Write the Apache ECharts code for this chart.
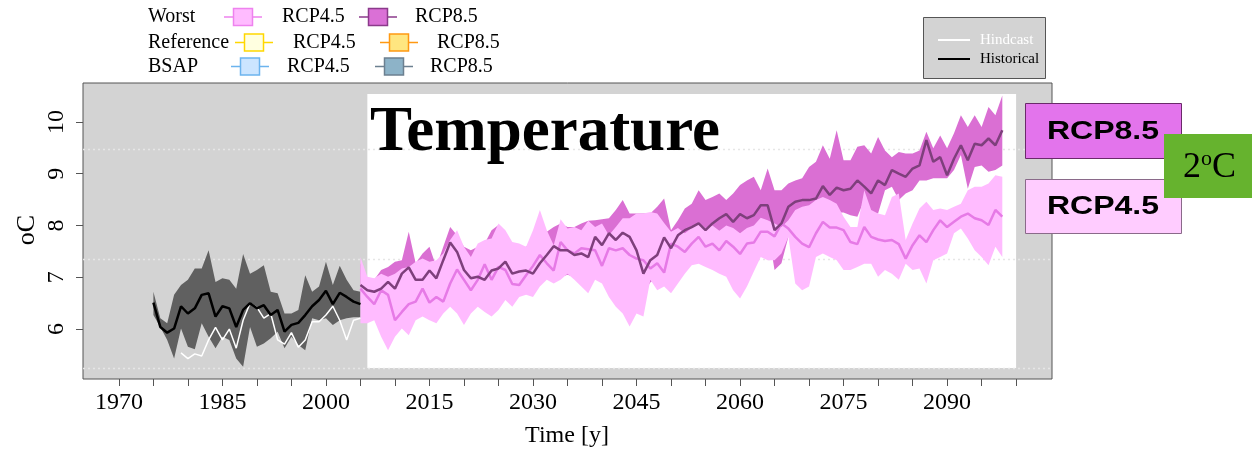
<!DOCTYPE html>
<html><head><meta charset="utf-8">
<script src="https://cdn.jsdelivr.net/npm/echarts@6/dist/echarts.min.js"></script>
<style>html,body{margin:0;padding:0;background:#fff}#c{width:1252px;height:454px}</style>
</head><body><div id="c"></div>
<script>
// ---------- DATA ----------
const histYears = [1975,1976,1977,1978,1979,1980,1981,1982,1983,1984,1985,1986,1987,1988,1989,1990,1991,1992,1993,1994,1995,1996,1997,1998,1999,2000,2001,2002,2003,2004,2005];
const histMean = [6.51,6.04,5.93,6.01,6.44,6.30,6.40,6.66,6.69,6.24,6.44,6.40,6.04,6.37,6.50,6.40,6.46,6.27,6.37,5.95,6.08,6.12,6.27,6.44,6.56,6.74,6.48,6.70,6.62,6.53,6.48];
const histHi = [6.72,6.21,6.11,6.66,6.85,6.95,7.17,7.17,7.52,6.91,6.98,6.95,6.78,7.45,7.07,7.14,7.23,6.72,6.69,6.30,6.30,6.37,7.04,6.72,6.82,7.30,6.85,7.22,6.95,6.75,6.72];
const histLo = [6.27,6.04,5.79,5.43,6.01,5.66,5.61,6.11,5.85,5.63,5.85,5.79,5.43,5.27,6.04,5.66,5.72,5.82,5.95,5.63,5.85,5.69,5.59,6.21,6.17,6.21,6.08,6.17,6.21,6.23,6.23];
const hindYears = [1979,1980,1981,1982,1983,1984,1985,1986,1987,1988,1989,1990,1991,1992,1993,1994,1995,1996,1997,1998,1999,2000,2001,2002,2003,2004,2005];
const hindcast = [5.54,5.43,5.52,5.48,5.79,6.03,5.79,6.00,5.63,6.17,6.50,6.42,6.21,6.30,5.79,5.71,5.93,5.65,5.79,6.14,6.14,6.27,6.44,6.17,5.79,6.17,6.21];

const projYears = [2005,2006,2007,2008,2009,2010,2011,2012,2013,2014,2015,2016,2017,2018,2019,2020,2021,2022,2023,2024,2025,2026,2027,2028,2029,2030,2031,2032,2033,2034,2035,2036,2037,2038,2039,2040,2041,2042,2043,2044,2045,2046,2047,2048,2049,2050,2051,2052,2053,2054,2055,2056,2057,2058,2059,2060,2061,2062,2063,2064,2065,2066,2067,2068,2069,2070,2071,2072,2073,2074,2075,2076,2077,2078,2079,2080,2081,2082,2083,2084,2085,2086,2087,2088,2089,2090,2091,2092,2093,2094,2095,2096,2097,2098];
const worst85 = [6.85,6.75,6.72,6.78,6.91,6.78,7.07,7.19,6.95,6.95,
7.13,6.98,7.33,7.67,7.49,7.14,6.98,7.01,6.95,7.13,
7.17,7.30,7.07,7.11,7.13,7.07,7.27,7.43,7.60,7.52,
7.52,7.43,7.46,7.39,7.78,7.62,7.85,7.72,7.86,7.78,
7.52,7.07,7.33,7.43,7.77,7.56,
7.81,7.91,7.97,8.04,7.91,8.04,8.14,8.22,8.07,8.22,
8.14,8.20,8.39,8.39,7.91,8.04,8.36,8.46,8.49,8.49,
8.52,8.76,8.59,8.73,8.68,8.71,8.87,8.75,8.62,8.87,
8.78,9.07,9.00,8.94,9.10,9.16,9.65,9.23,9.32,8.97,
9.29,9.55,9.26,9.58,9.55,9.68,9.55,9.84];
const worst45 = [6.78,6.62,6.48,6.75,6.66,6.17,6.33,6.48,6.53,6.78,
6.51,6.62,6.53,6.88,7.15,6.95,6.75,6.95,7.25,6.95,
7.20,7.14,6.87,6.85,7.04,7.22,7.43,7.27,7.13,7.68,
7.52,7.46,7.56,7.54,7.52,7.22,7.56,7.52,7.56,7.43,
7.36,7.33,7.17,7.27,7.09,7.65,
7.59,7.49,7.65,7.78,7.59,7.65,7.52,7.70,7.59,7.45,
7.65,7.67,7.88,7.88,7.79,8.04,7.94,7.78,7.65,7.58,
7.85,8.07,7.96,7.96,7.91,7.68,7.64,7.97,7.78,7.73,
7.70,7.72,7.64,7.36,7.62,7.81,7.68,7.91,8.10,7.97,
8.07,8.17,8.23,8.14,8.10,8.01,8.30,8.17];
const worst45Hi = [7.39,7.01,6.98,7.07,7.01,7.07,7.17,7.20,7.30,7.36,
7.30,7.33,7.46,7.72,7.91,7.59,7.39,7.65,7.72,7.75,
8.04,7.91,7.68,7.65,7.59,7.91,8.30,7.91,7.62,8.12,
7.94,7.97,7.91,8.09,7.97,8.04,7.81,7.97,8.14,8.14,
8.23,8.23,8.26,8.23,8.05,7.88,
7.95,7.85,7.95,8.05,7.95,8.00,7.90,8.00,7.95,7.85,
7.95,8.00,8.15,8.10,8.04,7.97,8.10,8.30,8.36,8.39,
8.49,8.55,8.49,8.42,8.17,7.97,7.97,8.68,8.30,8.23,
8.20,8.55,8.62,7.72,8.04,8.33,8.46,8.30,8.33,8.30,
8.36,8.42,8.68,8.75,8.75,8.81,8.97,8.94];
const worst45Lo = [6.11,6.11,6.17,5.85,5.59,5.85,6.01,5.88,6.17,6.24,
6.17,6.11,6.30,6.43,6.30,6.08,6.30,6.43,6.33,6.24,
6.37,6.56,6.43,6.62,6.66,6.62,6.82,6.95,6.88,6.95,
7.07,6.95,6.82,6.69,6.95,6.88,6.62,6.43,6.30,6.05,
6.30,6.24,6.95,6.75,6.82,6.69,
6.88,7.07,7.23,7.26,7.20,7.14,7.07,7.01,6.75,6.59,
6.82,7.11,7.39,7.33,7.33,7.46,7.78,6.88,6.75,6.82,
7.39,7.46,7.39,7.33,7.14,7.14,7.20,7.26,7.26,7.01,
7.14,7.07,6.95,7.26,7.14,7.17,6.88,7.33,7.39,7.46,
7.85,7.94,7.75,7.52,7.39,7.23,7.59,7.39];
const worst85Hi = [7.27,6.95,6.95,7.14,7.20,7.30,7.33,7.88,7.27,7.46,
7.59,7.20,7.59,7.97,7.81,7.59,7.52,7.59,7.65,7.91,
8.01,7.72,7.59,7.56,7.59,7.68,7.78,7.88,7.97,8.04,
7.97,7.97,8.04,8.09,8.10,8.12,8.14,8.30,8.49,8.23,
8.23,8.23,8.23,8.36,8.52,7.91,
8.10,8.33,8.42,8.68,8.49,8.55,8.62,8.49,8.62,8.78,
8.87,8.94,8.68,9.10,8.68,8.68,8.81,8.87,8.91,9.13,
9.23,9.55,9.29,9.84,9.26,9.26,9.52,9.55,9.39,9.71,
9.45,9.32,9.42,9.39,9.39,9.45,9.81,9.49,9.74,9.49,
9.78,10.13,9.90,10.13,9.90,10.29,10.13,10.51];
const worst85Lo = [6.55,6.45,6.40,6.45,6.50,6.40,6.55,6.60,6.50,6.55,
6.60,6.55,6.70,6.80,6.75,6.60,6.55,6.50,6.48,6.60,
6.70,6.75,6.70,6.75,6.80,6.80,6.90,7.00,7.10,7.00,
7.05,7.00,7.05,7.05,7.25,7.20,7.35,7.30,7.35,7.30,
7.10,6.70,6.90,7.00,7.30,7.20,
7.55,7.60,7.65,7.70,7.65,7.70,7.75,7.80,7.75,7.80,
7.80,7.85,7.95,7.95,7.14,7.27,7.78,8.10,8.10,8.15,
8.15,8.20,8.20,8.25,8.25,8.20,8.17,8.49,8.23,8.23,
8.68,8.75,8.49,8.62,8.68,8.87,8.87,8.91,8.91,8.91,
9.07,9.36,8.71,9.13,9.16,9.04,9.07,9.16];

const refLines = [5.25, 7.36, 9.47];
const xTicks = [1970,1975,1980,1985,1990,1995,2000,2005,2010,2015,2020,2025,2030,2035,2040,2045,2050,2055,2060,2065,2070,2075,2080,2085,2090,2095,2100];
const xLabels = [1970,1985,2000,2015,2030,2045,2060,2075,2090];
const yTicks = [6,7,8,9,10];
const scenarioWindow = [2006, 2100];

// ---------- HELPERS ----------
const SERIF = "'Liberation Serif','DejaVu Serif',serif";
const SANS = "'Liberation Sans',Arial,sans-serif";
function band(years, lo, hi, color) {
  return {
    type: 'custom', silent: true, clip: true,
    data: years.map((y, i) => [y, lo[i], hi[i]]),
    encode: { x: 0, y: [1, 2] },
    renderItem: function (params, api) {
      if (params.dataIndex !== 0) return null;
      const pts = [];
      for (let i = 0; i < years.length; i++) pts.push(api.coord([years[i], hi[i]]));
      for (let i = years.length - 1; i >= 0; i--) pts.push(api.coord([years[i], lo[i]]));
      return { type: 'polygon', shape: { points: pts }, style: { fill: color } };
    }
  };
}
function line(years, vals, color, width) {
  return {
    type: 'line', silent: true, symbol: 'none', animation: false,
    data: years.map((y, i) => [y, vals[i]]),
    lineStyle: { color: color, width: width }
  };
}
function legendSym(cx, cy, fill, stroke) {
  return [
    { type: 'line', shape: { x1: cx - 19, y1: cy, x2: cx + 19, y2: cy }, style: { stroke: stroke, lineWidth: 1.5 } },
    { type: 'rect', shape: { x: cx - 9.5, y: cy - 8.5, width: 19, height: 17 }, style: { fill: fill, stroke: stroke, lineWidth: 1.5 } }
  ];
}
function legendText(x, y, t) {
  return { type: 'text', x: x, y: y, style: { text: t, font: '20px ' + SERIF, fill: '#000', verticalAlign: 'middle' } };
}

const chart = echarts.init(document.getElementById('c'), null, { renderer: 'canvas' });

const graphics = [
  legendText(148, 17, 'Worst'), ...legendSym(243, 17, '#FFBBFF', '#EE82EE'), legendText(282, 17, 'RCP4.5'),
  ...legendSym(378, 17, '#DA70D6', '#8B3A8B'), legendText(415, 17, 'RCP8.5'),
  legendText(148, 42.5, 'Reference'), ...legendSym(254, 42.5, '#FFFFE0', '#FFD700'), legendText(293, 42.5, 'RCP4.5'),
  ...legendSym(399, 42.5, '#FFE680', '#FF9912'), legendText(437, 42.5, 'RCP8.5'),
  legendText(148, 66.5, 'BSAP'), ...legendSym(250, 66.5, '#CCE5FF', '#6CB4EE'), legendText(287, 66.5, 'RCP4.5'),
  ...legendSym(394, 66.5, '#8DB3C8', '#6C8090'), legendText(430, 66.5, 'RCP8.5'),
  // top-right legend
  { type: 'rect', shape: { x: 923.5, y: 17.5, width: 122, height: 61 }, style: { fill: '#d3d3d3', stroke: '#555', lineWidth: 1 } },
  { type: 'line', shape: { x1: 938, y1: 40, x2: 970, y2: 40 }, style: { stroke: '#fff', lineWidth: 2 } },
  { type: 'text', x: 980, y: 40, style: { text: 'Hindcast', font: '15px ' + SERIF, fill: '#fff', verticalAlign: 'middle' } },
  { type: 'line', shape: { x1: 938, y1: 59, x2: 970, y2: 59 }, style: { stroke: '#000', lineWidth: 2 } },
  { type: 'text', x: 980, y: 59, style: { text: 'Historical', font: '15px ' + SERIF, fill: '#000', verticalAlign: 'middle' } },
  // title
  { type: 'text', x: 370, y: 134, z: 100, style: { text: 'Temperature', font: 'bold 63px ' + SERIF, fill: '#000', verticalAlign: 'middle' } },
  // axis names
  { type: 'text', x: 567, y: 436, style: { text: 'Time [y]', font: '24px ' + SERIF, fill: '#000', align: 'center', verticalAlign: 'middle' } },
  { type: 'text', x: 27, y: 230, rotation: Math.PI / 2, style: { text: 'oC', font: '26px ' + SERIF, fill: '#000', align: 'center', verticalAlign: 'middle' } },
  // right boxes
  { type: 'rect', z: 100, shape: { x: 1025.5, y: 103.5, width: 156, height: 55 }, style: { fill: '#E374EC', stroke: '#6a2a6a', lineWidth: 1 } },
  { type: 'text', z: 101, x: 1103, y: 132, scaleX: 1.28, style: { text: 'RCP8.5', font: 'bold 25px ' + SANS, fill: '#000', align: 'center', verticalAlign: 'middle' } },
  { type: 'rect', z: 100, shape: { x: 1025.5, y: 179.5, width: 156, height: 54 }, style: { fill: '#FFCCFF', stroke: '#8a6a8a', lineWidth: 1 } },
  { type: 'text', z: 101, x: 1103, y: 207, scaleX: 1.28, style: { text: 'RCP4.5', font: 'bold 25px ' + SANS, fill: '#000', align: 'center', verticalAlign: 'middle' } },
  { type: 'rect', z: 102, shape: { x: 1164, y: 134, width: 88, height: 64 }, style: { fill: '#66B32E' } },
  { type: 'text', z: 103, x: 1183, y: 168, style: { text: '2', font: '36px ' + SERIF, fill: '#000', verticalAlign: 'middle' } },
  { type: 'text', z: 103, x: 1201, y: 159, style: { text: 'o', font: '22px ' + SERIF, fill: '#000', verticalAlign: 'middle' } },
  { type: 'text', z: 103, x: 1212, y: 168, style: { text: 'C', font: '36px ' + SERIF, fill: '#000', verticalAlign: 'middle' } }
];

const option = {
  animation: false,
  backgroundColor: '#fff',
  grid: { left: 83, top: 83, width: 969, height: 296, show: true, backgroundColor: '#d3d3d3', borderColor: '#555', borderWidth: 1 },
  xAxis: {
    type: 'value', min: 1964.8, max: 2105.2,
    axisLine: { show: false },
    splitLine: { show: false },
    axisTick: { show: true, length: 7, lineStyle: { color: '#555' }, customValues: xTicks },
    axisLabel: { customValues: xLabels, fontSize: 24, fontFamily: SERIF, color: '#000', margin: 12, formatter: v => String(v) }
  },
  yAxis: {
    type: 'value', min: 5.035, max: 10.752,
    axisLine: { show: false },
    splitLine: { show: false },
    axisTick: { show: true, length: 7, lineStyle: { color: '#555' }, customValues: yTicks },
    axisLabel: { customValues: yTicks, fontSize: 24, fontFamily: SERIF, color: '#000', rotate: 90, margin: 14, formatter: v => String(v) }
  },
  graphic: graphics,
  series: [
    { // scenario window (white panel)
      type: 'custom', silent: true,
      data: [[scenarioWindow[0], 5.247, scenarioWindow[1], 10.54]],
      encode: { x: [0, 2], y: [1, 3] },
      renderItem: function (params, api) {
        const p1 = api.coord([api.value(0), api.value(3)]);
        const p2 = api.coord([api.value(2), api.value(1)]);
        return { type: 'rect', shape: { x: p1[0], y: p1[1], width: p2[0] - p1[0], height: p2[1] - p1[1] }, style: { fill: '#fff' } };
      }
    },
    { // dotted reference lines
      type: 'custom', silent: true,
      data: refLines.map(v => [2000, v]),
      encode: { x: 0, y: 1 },
      renderItem: function (params, api) {
        const cs = params.coordSys;
        const y = Math.round(api.coord([2000, api.value(1)])[1]) + 0.5;
        return { type: 'line', shape: { x1: cs.x, y1: y, x2: cs.x + cs.width, y2: y }, style: { stroke: '#e6e6e6', lineWidth: 1.5, lineDash: [2, 3] } };
      }
    },
    band(histYears, histLo, histHi, '#606060'),
    line(hindYears, hindcast, '#ffffff', 1.5),
    line(histYears, histMean, '#000000', 2.5),
    band(projYears, worst85Lo, worst85Hi, '#DA6FD3'),
    band(projYears, worst45Lo, worst45Hi, '#FFBBFF'),
    line(projYears, worst45, '#E67AE6', 2.5),
    line(projYears, worst85, '#7E3F7C', 2.5)
  ]
};
chart.setOption(option);
</script>
</body></html>
